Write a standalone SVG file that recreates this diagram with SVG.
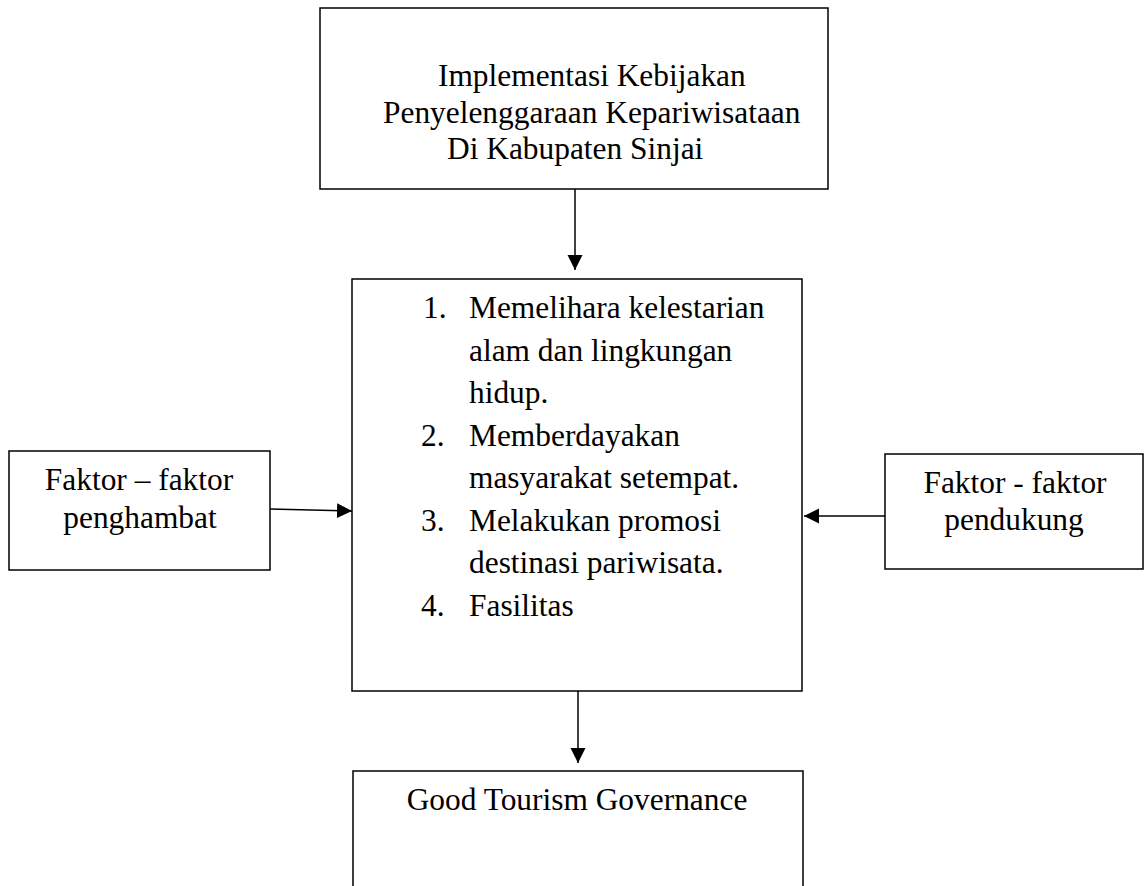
<svg xmlns="http://www.w3.org/2000/svg" width="1144" height="886" viewBox="0 0 1144 886">
<style>
.box{fill:#fff;stroke:#000;stroke-width:1.5}
.t{font-family:"Liberation Serif","Times New Roman",serif;font-size:31.4px;fill:#000}
.c{text-anchor:middle}
.ln{stroke:#000;stroke-width:1.5;fill:none}
</style>
<defs>
<marker id="ah" markerUnits="userSpaceOnUse" markerWidth="16" markerHeight="16" viewBox="0 0 16 16" refX="15" refY="8" orient="auto">
<path d="M0,0.5 L15,8 L0,15.5 Z" fill="#000"/>
</marker>
</defs>
<rect width="1144" height="886" fill="#fff"/>
<g id="n-top">
<rect class="box" x="320" y="8" width="508" height="181"/>
<text class="t" x="438" y="86">Implementasi Kebijakan</text>
<text class="t" x="383" y="123">Penyelenggaraan Kepariwisataan</text>
<text class="t" x="447" y="159">Di Kabupaten Sinjai</text>
</g>
<g id="n-mid">
<rect class="box" x="352" y="279" width="450" height="412"/>
<text class="t" x="423" y="318">1.</text><text class="t" x="469" y="318">Memelihara kelestarian</text>
<text class="t" x="469" y="361">alam dan lingkungan</text>
<text class="t" x="469" y="403">hidup.</text>
<text class="t" x="421" y="446">2.</text><text class="t" x="469" y="446">Memberdayakan</text>
<text class="t" x="469" y="488">masyarakat setempat.</text>
<text class="t" x="421" y="531">3.</text><text class="t" x="469" y="531">Melakukan promosi</text>
<text class="t" x="469" y="573">destinasi pariwisata.</text>
<text class="t" x="421" y="616">4.</text><text class="t" x="469" y="616">Fasilitas</text>
</g>
<g id="n-left">
<rect class="box" x="9" y="451" width="261" height="119"/>
<text class="t c" x="139" y="490">Faktor – faktor</text>
<text class="t c" x="140" y="528">penghambat</text>
</g>
<g id="n-right">
<rect class="box" x="885" y="454" width="258" height="115"/>
<text class="t c" x="1015" y="493">Faktor - faktor</text>
<text class="t c" x="1014" y="530">pendukung</text>
</g>
<g id="n-bottom">
<path class="ln" d="M353,900 V771 H803 V900"/>
<text class="t c" x="577" y="810">Good Tourism Governance</text>
</g>
<g id="connectors">
<line class="ln" x1="575" y1="189" x2="575" y2="270" marker-end="url(#ah)"/>
<line class="ln" x1="270" y1="509" x2="352" y2="511" marker-end="url(#ah)"/>
<line class="ln" x1="885" y1="516" x2="804" y2="516" marker-end="url(#ah)"/>
<line class="ln" x1="578" y1="691" x2="578" y2="763" marker-end="url(#ah)"/>
</g>
</svg>
